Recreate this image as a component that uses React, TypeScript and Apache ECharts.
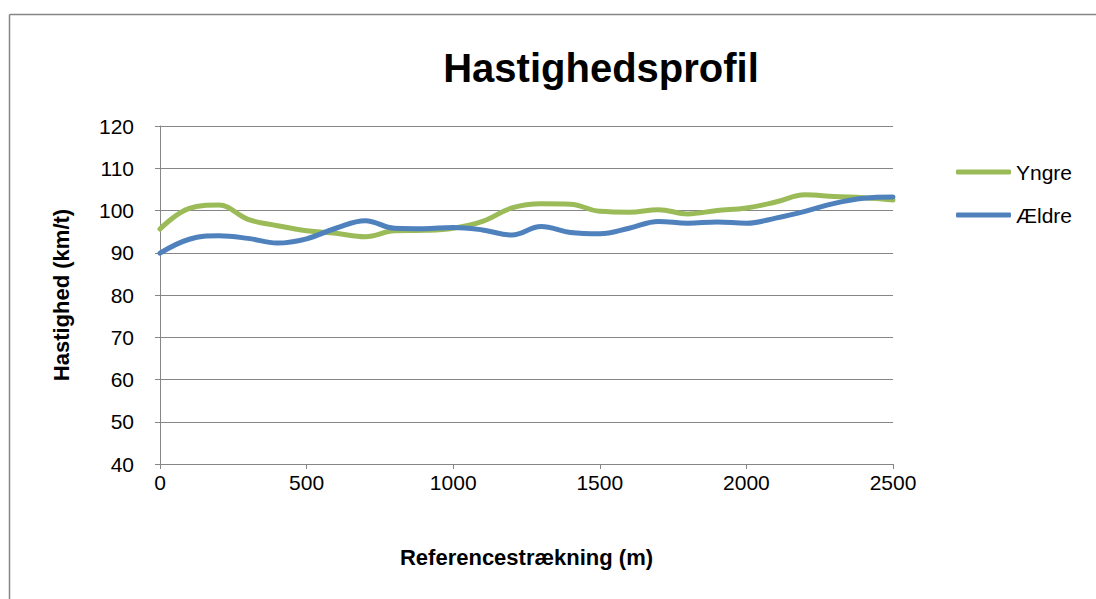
import React, { useEffect, useRef } from "react";
import * as echarts from "echarts";

const distances = [0, 100, 200, 300, 400, 500, 600, 700, 800, 900, 1000, 1100, 1200, 1300, 1400, 1500, 1600, 1700, 1800, 1900, 2000, 2100, 2200, 2300, 2400, 2500];
const yngre = [95.6, 100.5, 101.3, 97.9, 96.4, 95.2, 94.6, 93.8, 95.2, 95.3, 95.8, 97.4, 100.6, 101.6, 101.5, 99.8, 99.6, 100.2, 99.2, 100.0, 100.6, 102.0, 103.7, 103.3, 103.0, 102.5];
const aeldre = [89.9, 93.2, 94.0, 93.4, 92.3, 93.3, 95.8, 97.6, 95.8, 95.7, 96.0, 95.4, 94.2, 96.2, 94.8, 94.5, 95.8, 97.4, 97.0, 97.3, 97.0, 98.2, 99.8, 101.7, 102.9, 103.2];
const seriesNames = ["Yngre", "Ældre"];
const titleText = "Hastighedsprofil";
const xName = "Referencestrækning (m)";
const yName = "Hastighed (km/t)";

const FONT = "'Liberation Sans', Arial, sans-serif";

export default function App() {
  const ref = useRef<HTMLDivElement>(null);
  useEffect(() => {
    if (!ref.current) return;
    const chart = echarts.init(ref.current, undefined, { renderer: "svg" });
    const axisGrey = "#868686";
    chart.setOption({
      animation: false,
      backgroundColor: "#ffffff",
      textStyle: { fontFamily: FONT },
      title: {
        text: titleText,
        left: 596,
        textAlign: "center",
        top: 43,
        textStyle: { fontFamily: FONT, fontSize: 40, fontWeight: "bold", color: "#000" },
      },
      legend: {
        orient: "vertical",
        left: 951,
        top: 155,
        itemWidth: 55,
        itemHeight: 5,
        itemGap: 19,
        icon: "roundRect",
        data: seriesNames,
        textStyle: { fontFamily: FONT, fontSize: 21, color: "#000", lineHeight: 24 },
      },
      grid: { left: 160, right: 203, top: 126, bottom: 135, containLabel: false },
      xAxis: {
        type: "value",
        min: 0,
        max: 2500,
        interval: 500,
        name: xName,
        nameLocation: "middle",
        nameGap: 82,
        nameTextStyle: { fontFamily: FONT, fontSize: 22, fontWeight: "bold", color: "#000" },
        axisLine: { show: true, lineStyle: { color: axisGrey, width: 1 } },
        axisTick: { show: true, inside: false, length: 5, lineStyle: { color: axisGrey } },
        axisLabel: {
          fontFamily: FONT,
          fontSize: 21,
          color: "#000",
          margin: 8,
          formatter: (v: number) => String(v),
        },
        splitLine: { show: false },
      },
      yAxis: {
        type: "value",
        min: 40,
        max: 120,
        interval: 10,
        name: yName,
        nameLocation: "middle",
        nameGap: 88,
        nameTextStyle: { fontFamily: FONT, fontSize: 22, fontWeight: "bold", color: "#000" },
        axisLine: { show: true, lineStyle: { color: axisGrey, width: 1 } },
        axisTick: { show: true, inside: false, length: 5, lineStyle: { color: axisGrey } },
        axisLabel: { fontFamily: FONT, fontSize: 21, color: "#000", margin: 26 },
        splitLine: { show: true, lineStyle: { color: axisGrey, width: 1 } },
      },
      series: [
        {
          name: seriesNames[0],
          type: "line",
          data: distances.map((d, i) => [d, yngre[i]]),
          smooth: 0.4,
          showSymbol: false,
          symbol: "none",
          itemStyle: { color: "#9BBB59" },
          lineStyle: { color: "#9BBB59", width: 5, cap: "round" },
        },
        {
          name: seriesNames[1],
          type: "line",
          data: distances.map((d, i) => [d, aeldre[i]]),
          smooth: 0.4,
          showSymbol: false,
          symbol: "none",
          itemStyle: { color: "#4F81BD" },
          lineStyle: { color: "#4F81BD", width: 5, cap: "round" },
        },
      ],
      graphic: [
        { type: "line", shape: { x1: 9.5, y1: 14.5, x2: 1096, y2: 14.5 }, style: { stroke: "#868686", lineWidth: 1.5 } },
        { type: "line", shape: { x1: 9.5, y1: 14.5, x2: 9.5, y2: 599 }, style: { stroke: "#868686", lineWidth: 1.5 } },
      ],
    });
    return () => chart.dispose();
  }, []);
  return (
    <div
      ref={ref}
      style={{ position: "fixed", left: 0, top: 0, width: 1096, height: 599 }}
    />
  );
}
